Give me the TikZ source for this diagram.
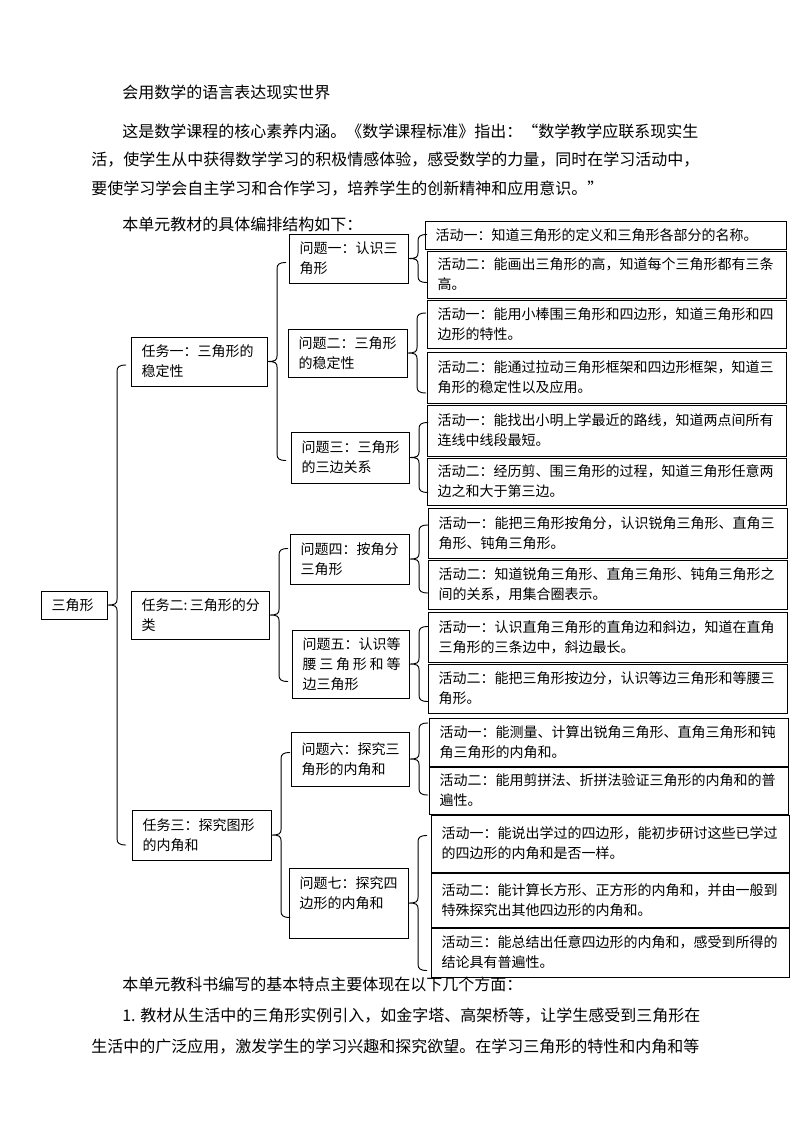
\documentclass[tikz,border=0pt]{standalone}
\usepackage{fontspec}
\setmainfont{Noto Sans CJK SC}
\usetikzlibrary{calc}
\newcommand\myBx[6]{%
  \pgfmathsetmacro\myBW{(#4-#2)*0.75}%
  \pgfmathsetmacro\myBH{(#5-#3)*0.75}%
  \pgfmathsetmacro\myTW{(#4-#2-21)*0.75}%
  \node[treebox, minimum width=\myBW pt, minimum height=\myBH pt, text width=\myTW pt] (#1) at (#2,#3) {#6};%
}
\newcommand\myBrace[2]{%
  \draw[conn] ($(#1.east)+(19,-#2)$) .. controls ($(#1.east)+(12,-#2)$) and ($(#1.east)+(10,-#2+2)$) .. ($(#1.east)+(10,-#2+6)$)
    -- ($(#1.east)+(10,-6)$) .. controls ($(#1.east)+(10,-1)$) and ($(#1.east)+(8,0)$) .. (#1.east)
    .. controls ($(#1.east)+(8,0)$) and ($(#1.east)+(10,1)$) .. ($(#1.east)+(10,6)$)
    -- ($(#1.east)+(10,#2-6)$) .. controls ($(#1.east)+(10,#2-2)$) and ($(#1.east)+(12,#2)$) .. ($(#1.east)+(19,#2)$);%
}
\begin{document}
\begin{tikzpicture}[x=0.75pt,y=-0.75pt,
  bodytext/.style={anchor=west, inner sep=0pt, font=\fontsize{12}{14}\selectfont},
  treebox/.style={draw, line width=0.7pt, rectangle, anchor=north west, outer sep=0pt,
    inner xsep=7.9pt, inner ysep=0pt, align=left, font=\fontsize{10.5}{15}\selectfont},
  conn/.style={line width=0.7pt}]
\fill[white] (0,0) rectangle (794,1123);
\useasboundingbox (0,0) rectangle (794,1123);

% body text
\node[bodytext] (l1) at (122,92) {会用数学的语言表达现实世界};
\node[bodytext] (l2) at (122,131) {这是数学课程的核心素养内涵。《数学课程标准》指出：“数学教学应联系现实生};
\node[bodytext] (l3) at (91,160) {活，使学生从中获得数学学习的积极情感体验，感受数学的力量，同时在学习活动中，};
\node[bodytext] (l4) at (91,189) {要使学习学会自主学习和合作学习，培养学生的创新精神和应用意识。”};
\node[bodytext] (l5) at (122,224) {本单元教材的具体编排结构如下：};
\node[bodytext] (b1) at (122,984) {本单元教科书编写的基本特点主要体现在以下几个方面：};
\node[bodytext] (b2) at (122,1016) {1. 教材从生活中的三角形实例引入，如金字塔、高架桥等，让学生感受到三角形在};
\node[bodytext] (b3) at (91,1047) {生活中的广泛应用，激发学生的学习兴趣和探究欲望。在学习三角形的特性和内角和等};

% root and tasks
\myBx{root}{41}{591}{107}{619}{三角形}
\myBx{t1}{131}{337}{267}{386}{任务一：三角形的\\稳定性}
\myBx{t2}{131}{591}{269}{639}{\mbox{任务二:\,三角形的分}\\类}
\myBx{t3}{132}{810}{271}{860}{任务三：探究图形\\的内角和}

% questions
\myBx{q1}{289}{234}{408}{283}{问题一：认识三\\角形}
\myBx{q2}{288}{329}{407}{377}{问题二：三角形\\的稳定性}
\myBx{q3}{291}{432}{409}{483}{问题三：三角形\\的三边关系}
\myBx{q4}{290}{534}{409}{584}{问题四：按角分\\三角形}
\myBx{q5}{292}{630}{409}{698}{问题五：认识等\\\makebox[7em][s]{腰\hfill 三\hfill 角\hfill 形\hfill 和\hfill 等}\\边三角形}
\myBx{q6}{291}{732}{409}{786}{问题六：探究三\\角形的内角和}
\myBx{q7}{289}{868}{408}{938}{问题七：探究四\\边形的内角和\\\mbox{}}

% activities
\myBx{a11}{425}{221}{786}{249}{活动一：知道三角形的定义和三角形各部分的名称。}
\myBx{a12}{427}{251}{786}{298}{活动二：能画出三角形的高，知道每个三角形都有三条\\高。}
\myBx{a21}{427}{300}{786}{348}{活动一：能用小棒围三角形和四边形，知道三角形和四\\边形的特性。}
\myBx{a22}{427}{352}{786}{403}{活动二：能通过拉动三角形框架和四边形框架，知道三\\角形的稳定性以及应用。}
\myBx{a31}{427}{405}{786}{456}{活动一：能找出小明上学最近的路线，知道两点间所有\\连线中线段最短。}
\myBx{a32}{427}{458}{786}{505}{活动二：经历剪、围三角形的过程，知道三角形任意两\\边之和大于第三边。}
\myBx{a41}{428}{508}{787}{558}{活动一：能把三角形按角分，认识锐角三角形、直角三\\角形、钝角三角形。}
\myBx{a42}{428}{560}{787}{609}{活动二：知道锐角三角形、直角三角形、钝角三角形之\\间的关系，用集合圈表示。}
\myBx{a51}{428}{612}{787}{662}{活动一：认识直角三角形的直角边和斜边，知道在直角\\三角形的三条边中，斜边最长。}
\myBx{a52}{428}{664}{787}{713}{活动二：能把三角形按边分，认识等边三角形和等腰三\\角形。}
\myBx{a61}{429}{718}{788}{766}{活动一：能测量、计算出锐角三角形、直角三角形和钝\\角三角形的内角和。}
\myBx{a62}{429}{767}{788}{814}{活动二：能用剪拼法、折拼法验证三角形的内角和的普\\遍性。}
\myBx{a71}{431}{815}{789}{872}{活动一：能说出学过的四边形，能初步研讨这些已学过\\的四边形的内角和是否一样。}
\myBx{a72}{431}{873}{789}{927}{活动二：能计算长方形、正方形的内角和，并由一般到\\特殊探究出其他四边形的内角和。}
\myBx{a73}{431}{928}{789}{977}{活动三：能总结出任意四边形的内角和，感受到所得的\\结论具有普遍性。}

% braces
\myBrace{root}{240}
\myBrace{t1}{99}
\myBrace{t2}{66.5}
\myBrace{t3}{82.5}
\myBrace{q1}{24}
\myBrace{q2}{40}
\myBrace{q3}{35}
\myBrace{q4}{34}
\myBrace{q5}{37.5}
\myBrace{q6}{36}
\myBrace{q7}{67.5}
\end{tikzpicture}
\end{document}
